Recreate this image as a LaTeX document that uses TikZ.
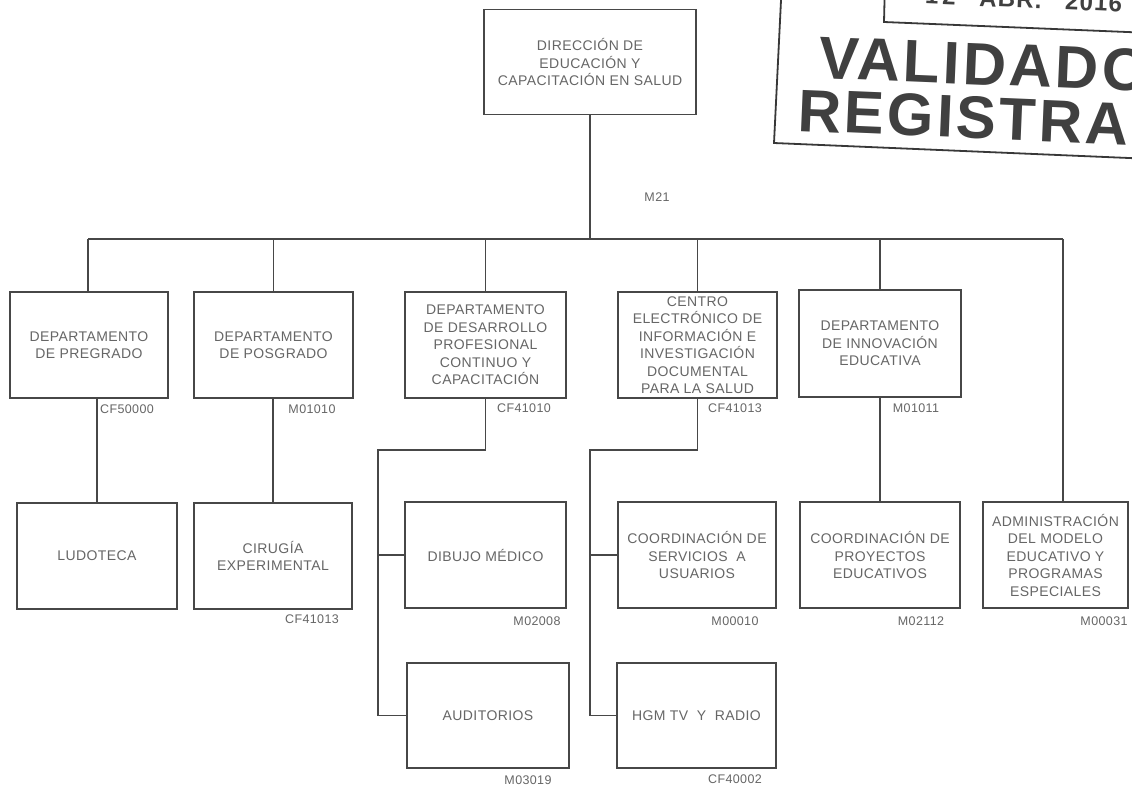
\documentclass[tikz,border=0pt]{standalone}
\usepackage{fontspec}
\setmainfont{Liberation Sans}[LetterSpace=3]
\newfontfamily\stampfont{Liberation Sans}[LetterSpace=5]

\tikzset{
    unit/.style={draw=black!72, line width=1.5pt, align=center, inner sep=1pt,
        text=black!60, font=\fontsize{14}{17.5}\selectfont,
        minimum width=159pt, minimum height=106pt},
    code/.style={text=black!60, font=\fontsize{12.5}{14}\selectfont, inner sep=0pt},
    link/.style={draw=black!72, line width=1.5pt},
    stampink/.style={draw=black!78, line width=1.8pt},
    stamptext/.style={text=black!75, inner sep=0pt, rotate=-2.4}
}

\begin{document}
\begin{tikzpicture}[x=1pt,y=-1pt]
    \useasboundingbox (0,0) rectangle (1132,788);
    \fill[white] (0,0) rectangle (1132,788);
    \clip (0,0) rectangle (1132,788);

    % direccion
    \node[unit, minimum width=212pt, minimum height=105pt] (dir) at (590,62) {DIRECCIÓN DE\\EDUCACIÓN Y\\CAPACITACIÓN EN SALUD};
    \node[code] (dircode) at (657,197) {M21};

    % departamentos
    \node[unit, minimum width=158pt] (pre) at (89,345) {DEPARTAMENTO\\DE PREGRADO};
    \node[unit] (pos) at (273.5,345) {DEPARTAMENTO\\DE POSGRADO};
    \node[unit, minimum width=161pt] (des) at (485.5,345) {DEPARTAMENTO\\DE DESARROLLO\\PROFESIONAL\\CONTINUO Y\\CAPACITACIÓN};
    \node[unit] (cen) at (697.5,345) {CENTRO\\ELECTRÓNICO DE\\INFORMACIÓN E\\INVESTIGACIÓN\\DOCUMENTAL\\PARA LA SALUD};
    \node[unit, minimum width=162pt, minimum height=107pt] (inn) at (880,343.5) {DEPARTAMENTO\\DE INNOVACIÓN\\EDUCATIVA};

    \node[code] (precode) at (127,409) {CF50000};
    \node[code] (poscode) at (312,409) {M01010};
    \node[code] (descode) at (524,408) {CF41010};
    \node[code] (cencode) at (735,408) {CF41013};
    \node[code] (inncode) at (916,408) {M01011};

    % segundo nivel
    \node[unit, minimum width=160pt] (ludo) at (97,556) {LUDOTECA};
    \node[unit, minimum width=158pt] (ciru) at (273,556) {CIRUGÍA\\EXPERIMENTAL};
    \node[unit, minimum width=161pt] (dib) at (485.5,555) {DIBUJO MÉDICO};
    \node[unit, minimum width=158pt] (serv) at (697,555) {COORDINACIÓN DE\\SERVICIOS\ \ A\\USUARIOS};
    \node[unit, minimum width=160pt] (proy) at (880,555) {COORDINACIÓN DE\\PROYECTOS\\EDUCATIVOS};
    \node[unit, minimum width=145pt] (adm) at (1055.5,555) {ADMINISTRACIÓN\\DEL MODELO\\EDUCATIVO Y\\PROGRAMAS\\ESPECIALES};

    \node[code] (cirucode) at (312,619) {CF41013};
    \node[code] (dibcode) at (537,621) {M02008};
    \node[code] (servcode) at (735,621) {M00010};
    \node[code] (proycode) at (921,621) {M02112};
    \node[code] (admcode) at (1104,621) {M00031};

    % tercer nivel
    \node[unit, minimum width=162pt, minimum height=105pt] (aud) at (488,715.5) {AUDITORIOS};
    \node[unit, minimum height=105pt] (hgm) at (696.5,715.5) {HGM TV\ \ Y\ \ RADIO};

    \node[code] (audcode) at (528,780) {M03019};
    \node[code] (hgmcode) at (735,779) {CF40002};

    % conectores
    \coordinate (busL) at (88,239);
    \coordinate (busR) at (1063,239);
    \draw[link] (dir.south) -- (dir.south |- busL);
    \draw[link] (busL) -- (busR);
    \draw[link] (busL) -- (busL |- pre.north);
    \draw[link] (pos.north |- busL) -- (pos.north);
    \draw[link] (des.north |- busL) -- (des.north);
    \draw[link] (cen.north |- busL) -- (cen.north);
    \draw[link] (inn.north |- busL) -- (inn.north);
    \draw[link] (busR) -- (busR |- adm.north);

    \draw[link] (ludo.north |- pre.south) -- (ludo.north);
    \draw[link] (ciru.north |- pos.south) -- (ciru.north);
    \draw[link] (proy.north |- inn.south) -- (proy.north);

    \coordinate (desK) at (378,450);
    \draw[link] (des.south) -- (des.south |- desK) -- (desK) |- (aud.west);
    \draw[link] (desK |- dib.west) -- (dib.west);

    \coordinate (cenK) at (590,450);
    \draw[link] (cen.south) -- (cen.south |- cenK) -- (cenK) |- (hgm.west);
    \draw[link] (cenK |- serv.west) -- (serv.west);

    % sello
    \draw[stampink] (782,-20) -- (774,143) -- (1200,161);
    \draw[stampink] (885,-20) -- (884,22) -- (1200,35);
    \node[stamptext, anchor=base east, font=\stampfont\bfseries\fontsize{24}{24}\selectfont] (fecha) at (1122,12) {1\,2\ \ \ ABR.\ \ \ 2016};
    \node[stamptext, anchor=base west, font=\stampfont\bfseries\fontsize{60}{60}\selectfont] (valid) at (818,78) {VALIDADO};
    \node[stamptext, anchor=base west, font=\stampfont\bfseries\fontsize{60}{60}\selectfont] (regis) at (797,131) {REGISTRADO};
\end{tikzpicture}
\end{document}
